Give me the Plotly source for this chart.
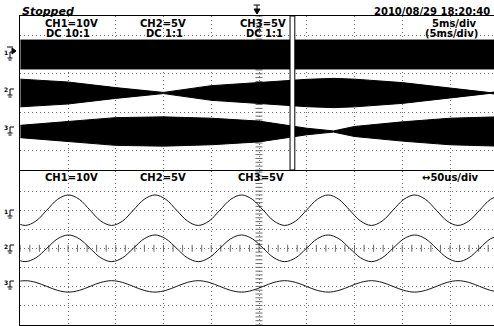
import plotly.graph_objects as go
import numpy as np

W, H = 494, 326

# ---------------- upper panel: 5 ms/div, envelope readings (divisions) ----------------
env_t_ms = [0, 5, 10, 15, 20, 25, 30, 32.8, 35, 40, 45, 49.2, 50]
ch1_env_t_ms = [0, 50]
ch1_env_amp = [0.75, 0.75]
ch2_env_amp = [0.72, 0.57, 0.28, 0.03, 0.38, 0.54, 0.71, 0.76, 0.72, 0.54, 0.26, 0.02, 0.08]
ch3_env_amp = [0.32, 0.52, 0.72, 0.76, 0.69, 0.54, 0.17, 0.03, 0.26, 0.50, 0.69, 0.75, 0.76]
upper_offsets = {"CH1": 6, "CH2": 4, "CH3": 2}

# zoom window (ms)
zoom_window_ms = [28.25, 28.75]

# ---------------- lower panel: 50 us/div, waveform readings (divisions) ----------------
t_us = [-17.6, -6.3, 5.1, 16.4, 27.8, 39.1, 50.4, 61.8, 73.1, 84.4, 95.7, 107.1,
        118.4, 129.7, 141.1, 152.4, 163.7, 175.1, 186.4, 197.7, 209.0, 220.4, 231.7,
        243.0, 254.4, 265.7, 277.0, 288.4, 299.7, 311.0, 322.4, 333.7, 345.0, 356.4,
        367.7, 379.0, 390.3, 401.7, 413.0, 424.3, 435.7, 447.0, 458.4, 469.7, 481.0,
        492.4, 503.7]
ch1_v = [6, 5.43, 5.2, 5.43, 6, 6.57, 6.8, 6.57,
         6, 5.43, 5.2, 5.43, 6, 6.57, 6.8, 6.57,
         6, 5.43, 5.2, 5.43, 6, 6.57, 6.8, 6.57,
         6, 5.43, 5.2, 5.43, 6, 6.57, 6.8, 6.57,
         6, 5.43, 5.2, 5.43, 6, 6.57, 6.8, 6.57,
         6, 5.43, 5.2, 5.43, 6, 6.57, 6.8]
ch2_v = [4, 3.5, 3.3, 3.5, 4, 4.5, 4.7, 4.5,
         4, 3.5, 3.3, 3.5, 4, 4.5, 4.7, 4.5,
         4, 3.5, 3.3, 3.5, 4, 4.5, 4.7, 4.5,
         4, 3.5, 3.3, 3.5, 4, 4.5, 4.7, 4.5,
         4, 3.5, 3.3, 3.5, 4, 4.5, 4.7, 4.5,
         4, 3.5, 3.3, 3.5, 4, 4.5, 4.7]
ch3_v = [2, 2.21, 2.3, 2.21, 2, 1.79, 1.7, 1.79,
         2, 2.21, 2.3, 2.21, 2, 1.79, 1.7, 1.79,
         2, 2.21, 2.3, 2.21, 2, 1.79, 1.7, 1.79,
         2, 2.21, 2.3, 2.21, 2, 1.79, 1.7, 1.79,
         2, 2.21, 2.3, 2.21, 2, 1.79, 1.7, 1.79,
         2, 2.21, 2.3, 2.21, 2, 1.79, 1.7]

# ---------------- text ----------------
status_text = "Stopped"
date_text = "2010/08/29 18:20:40"
ch_labels = ["CH1=10V", "CH2=5V", "CH3=5V"]
coupling_labels = ["DC 10:1", "DC 1:1", "DC 1:1"]
upper_timebase = ["5ms/div", "(5ms/div)"]
lower_timebase = "↔50us/div"

# ---------------- geometry helpers (pixels -> paper) ----------------
def px(x):
    return x / W

def py(y):
    return 1 - y / H

X0 = 20.25
PXDIV = 47.75
x_dom = [px(X0), 1]
up_dom = [py(170), py(16)]
lo_dom = [py(324.5), py(171)]
up_xmax = (W - X0) / PXDIV * 5
lo_xmax = (W - X0) / PXDIV * 50
lo_ymax = (324.5 - 171) / 19.05

GRID = "#6a6a6a"
DOT = "1px,3px"

fig = go.Figure()

# graticule ticks on centre lines
tick_style = dict(color=GRID, width=1)
fig.add_trace(go.Scatter(x=[25] * 41, y=np.arange(0, 8.01, 0.2), mode="markers",
                         marker=dict(symbol="line-ew", size=5, line=tick_style),
                         xaxis="x", yaxis="y", hoverinfo="skip", showlegend=False))
fig.add_trace(go.Scatter(x=[250] * 41, y=np.arange(0, 8.01, 0.2), mode="markers",
                         marker=dict(symbol="line-ew", size=5, line=tick_style),
                         xaxis="x2", yaxis="y2", hoverinfo="skip", showlegend=False))
fig.add_trace(go.Scatter(x=np.arange(0, 500, 10), y=[4] * 50, mode="markers",
                         marker=dict(symbol="line-ns", size=5, line=tick_style),
                         xaxis="x2", yaxis="y2", hoverinfo="skip", showlegend=False))

# upper envelopes
def env_trace(t, amp, c):
    up = [c + a for a in amp]
    lo = [c - a for a in amp]
    return go.Scatter(x=list(t) + list(t)[::-1], y=up + lo[::-1], fill="toself",
                      fillcolor="black", line=dict(color="black", width=1),
                      mode="lines", xaxis="x", yaxis="y", hoverinfo="skip", showlegend=False)

fig.add_trace(env_trace(ch1_env_t_ms, ch1_env_amp, upper_offsets["CH1"]))
fig.add_trace(env_trace(env_t_ms, ch2_env_amp, upper_offsets["CH2"]))
fig.add_trace(env_trace(env_t_ms, ch3_env_amp, upper_offsets["CH3"]))

# lower waveforms
for v in (ch1_v, ch2_v, ch3_v):
    fig.add_trace(go.Scatter(x=t_us, y=v, mode="lines",
                             line=dict(color="#151515", width=1, shape="spline", smoothing=1.0),
                             xaxis="x2", yaxis="y2", hoverinfo="skip", showlegend=False))

axis_common = dict(showgrid=True, griddash=DOT, gridcolor=GRID, gridwidth=1,
                   showticklabels=False, ticks="", zeroline=False,
                   showline=True, linecolor="black", linewidth=1)

shapes = []
# zoom window rectangle
shapes.append(dict(type="rect", xref="x", yref="y", x0=zoom_window_ms[0], x1=zoom_window_ms[1],
                   y0=0, y1=8, line=dict(color="black", width=1), fillcolor="white", layer="above"))

def L(x0, y0, x1, y1, w=1):
    shapes.append(dict(type="line", xref="paper", yref="paper", x0=px(x0), y0=py(y0),
                       x1=px(x1), y1=py(y1), line=dict(color="black", width=w)))

annotations = []

def T(x, y, text, size=10, anchor="center", bold=True, italic=False):
    annotations.append(dict(xref="paper", yref="paper", x=px(x), y=py(y), text=text,
                            showarrow=False, xanchor=anchor, yanchor="middle",
                            font=dict(family="DejaVu Sans", size=size, color="black",
                                      weight="bold" if bold else "normal",
                                      style="italic" if italic else "normal")))

# ground markers
def ground(y0, label):
    T(6, y0 - 2, label, size=6)
    L(10, y0 - 3, 14, y0 - 3)
    L(10, y0 - 3, 10, y0 + 3)
    L(7.5, y0 + 3, 12.5, y0 + 3)
    L(8.5, y0 + 5, 11.5, y0 + 5)

for y0, lab in [(55, "1"), (92, "2"), (130, "3"), (213, "1"), (248, "2"), (284, "3")]:
    ground(y0, lab)
# trigger level arrow on CH1 (upper)
shapes.append(dict(type="path", xref="paper", yref="paper",
                   path=f"M {px(12)},{py(48)} L {px(16)},{py(51)} L {px(12)},{py(54)} Z",
                   fillcolor="black", line=dict(color="black", width=1)))
L(7, 47, 13, 47)

# trigger position marker (top)
L(253.5, 5, 260, 5)
L(257, 5, 257, 12)
shapes.append(dict(type="path", xref="paper", yref="paper",
                   path=f"M {px(254)},{py(9)} L {px(260)},{py(9)} L {px(257)},{py(14)} Z",
                   fillcolor="black", line=dict(color="black", width=1)))

# header texts
T(20, 11.5, status_text, size=11, anchor="left", italic=True)
T(492, 11, date_text, size=10, anchor="right")
for cx, lab in zip([71, 162.5, 263], ch_labels):
    T(cx, 23.5, lab)
for cx, lab in zip([67.5, 164, 264], coupling_labels):
    T(cx, 34, lab)
T(454, 23.5, upper_timebase[0])
T(451, 34, upper_timebase[1])
for cx, lab in zip([71, 162.5, 261], ch_labels):
    T(cx, 177.5, lab)
T(450, 177.5, lower_timebase)

fig.update_layout(
    width=W, height=H, margin=dict(l=0, r=0, t=0, b=0),
    paper_bgcolor="white", plot_bgcolor="white", showlegend=False,
    xaxis=dict(domain=x_dom, range=[0, up_xmax], anchor="y",
               tickvals=[5, 10, 15, 20, 25, 30, 35, 40, 45], mirror=True, **axis_common),
    yaxis=dict(domain=up_dom, range=[0, 8], anchor="x",
               tickvals=[1, 3, 5, 7], mirror=False, **axis_common),
    xaxis2=dict(domain=x_dom, range=[0, lo_xmax], anchor="y2",
                tickvals=[50, 100, 150, 200, 250, 300, 350, 400, 450], mirror=True, **axis_common),
    yaxis2=dict(domain=lo_dom, range=[0, lo_ymax], anchor="x2",
                tickvals=[1, 2, 3, 4, 5, 6, 7], mirror=False, **axis_common),
    shapes=shapes, annotations=annotations,
)

fig.write_html("out.html")
